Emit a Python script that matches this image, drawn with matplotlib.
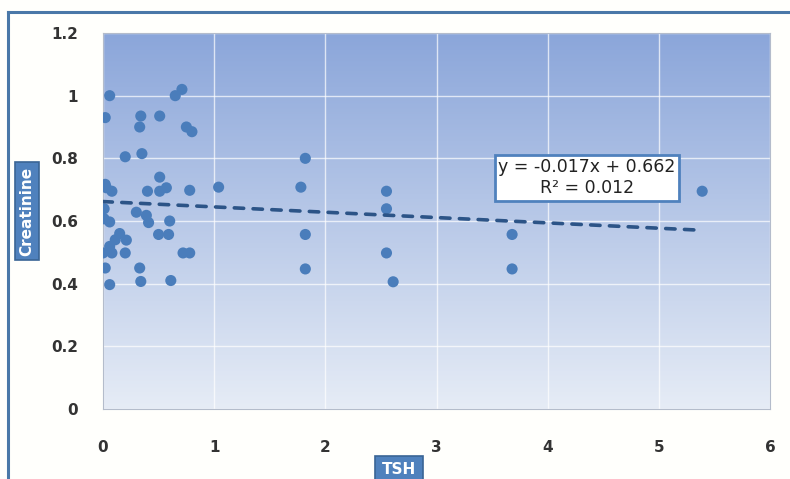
import matplotlib.pyplot as plt
import numpy as np
from matplotlib.lines import Line2D

# Dados
tsh = [0.06, 0.02, 0.34, 0.33, 0.51, 0.65, 0.71, 0.75, 0.80, 0.20,
       0.35, 1.82, 0.02, 0.03, 0.08, 0.51, 0.40, 0.51, 0.57, 0.78,
       1.04, 1.78, 0.01, 0.30, 0.39, 0.60, 0.01, 0.06, 0.41, 0.15,
       0.21, 0.11, 0.06, 0.50, 0.59, 1.82, 0.00, 0.08, 0.20, 0.72,
       0.78, 0.02, 0.33, 1.82, 0.06, 0.34, 0.61, 2.55, 2.55, 2.55,
       2.61, 3.68, 3.68, 5.39]
creatinine = [1.00, 0.93, 0.935, 0.90, 0.935, 1.00, 1.02, 0.90, 0.885, 0.805,
              0.815, 0.80, 0.717, 0.706, 0.695, 0.74, 0.695, 0.695, 0.706, 0.698,
              0.708, 0.708, 0.639, 0.628, 0.618, 0.600, 0.607, 0.597, 0.595, 0.560,
              0.539, 0.540, 0.519, 0.557, 0.557, 0.557, 0.498, 0.498, 0.498, 0.498,
              0.498, 0.45, 0.45, 0.447, 0.397, 0.407, 0.41, 0.695, 0.639, 0.498,
              0.406, 0.557, 0.447, 0.695]

# Linha de tendência (da equação no gráfico)
slope, intercept = -0.017, 0.662
r2 = 0.012

x_ticks = [0, 1, 2, 3, 4, 5, 6]
y_ticks = [0, 0.2, 0.4, 0.6, 0.8, 1.0, 1.2]
y_tick_labels = ['0', '0.2', '0.4', '0.6', '0.8', '1', '1.2']

W, H = 790, 479
fig = plt.figure(figsize=(W / 100, H / 100), dpi=100)
fig.patch.set_facecolor('#fffffc')
ax = fig.add_axes([103 / W, 1 - 409 / H, (770 - 103) / W, (409 - 33) / H])

# fundo em degradê
top = np.array([139, 166, 218]) / 255
bottom = np.array([230, 236, 246]) / 255
t = np.linspace(0, 1, 256)[:, None]
grad = (top * (1 - t) + bottom * t)[:, None, :]
ax.imshow(grad, extent=[0, 1, 0, 1], transform=ax.transAxes, aspect='auto', zorder=0)

ax.set_xlim(0, 6)
ax.set_ylim(0, 1.2)
ax.set_xticks(x_ticks)
ax.set_yticks(y_ticks)
ax.set_yticklabels(y_tick_labels)
ax.grid(True, color='white', linewidth=1.0, alpha=0.7, zorder=1)
ax.set_axisbelow(True)
ax.tick_params(length=0, labelsize=11, colors='#333333')
ax.tick_params(axis='x', pad=22)
ax.tick_params(axis='y', pad=18)
for lab in ax.get_xticklabels() + ax.get_yticklabels():
    lab.set_fontweight('bold')
for s in ax.spines.values():
    s.set_color('#b4bccb')
    s.set_linewidth(0.8)

ax.scatter(tsh, creatinine, s=64, color='#4a7dbb', edgecolors='none', zorder=3)

xl = np.array([0, max(tsh)])
ax.plot(xl, slope * xl + intercept, color='#2c5487', linewidth=2.6,
        linestyle=(0, (2.6, 2.6)), dash_capstyle='round', zorder=4)

ax.text(4.355, 0.738, f'y = {slope}x + {intercept}\nR² = {r2}', ha='center', va='center',
        fontsize=12.5, color='#222222', linespacing=1.2, zorder=5,
        bbox=dict(boxstyle='square,pad=0.2', fc='white', ec='#4f81bd', lw=2))

# moldura externa
fig.add_artist(Line2D([8 / W, 1], [1 - 12 / H, 1 - 12 / H], color='#4a78a8', lw=2.2))
fig.add_artist(Line2D([8 / W, 8 / W], [0, 1 - 12 / H], color='#4a78a8', lw=2.2))

box = dict(boxstyle='square,pad=0.3', fc='#4f81bd', ec='#3a6595', lw=1.2)
fig.text(27 / W, 1 - 211 / H, 'Creatinine', rotation=90, ha='center', va='center',
         color='white', fontsize=11, fontweight='bold', bbox=box)
fig.text(399 / W, 1 - 470 / H, 'TSH', ha='center', va='center',
         color='white', fontsize=11, fontweight='bold',
         bbox=dict(boxstyle='square,pad=0.45', fc='#4f81bd', ec='#3a6595', lw=1.2))

fig.savefig('out.png', dpi=100)
